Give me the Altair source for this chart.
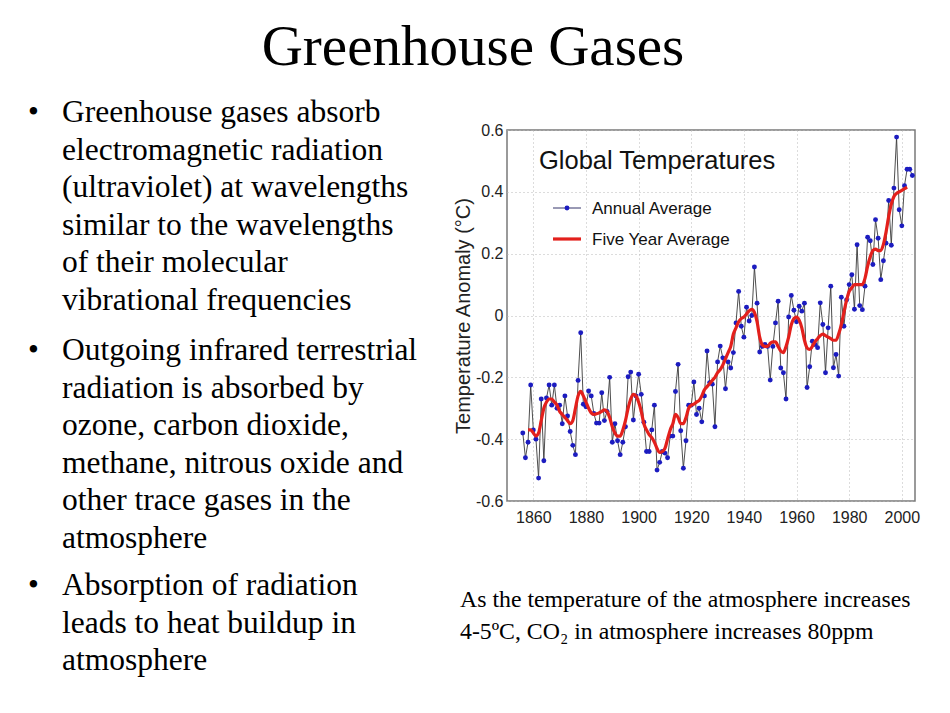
import altair as alt
import pandas as pd

# ---------------- data ----------------
annual_years = list(range(1856, 2005))
annual_values = [
    -0.38, -0.46, -0.41, -0.225, -0.37, -0.40, -0.526, -0.27, -0.47, -0.267,
    -0.225, -0.29, -0.225, -0.30, -0.29, -0.35, -0.26, -0.325, -0.375, -0.42,
    -0.45, -0.21, -0.056, -0.287, -0.295, -0.244, -0.26, -0.317, -0.348, -0.348,
    -0.25, -0.34, -0.31, -0.20, -0.41, -0.35, -0.405, -0.45, -0.41, -0.36,
    -0.198, -0.183, -0.338, -0.26, -0.19, -0.255, -0.345, -0.44, -0.44, -0.37,
    -0.29, -0.50, -0.475, -0.44, -0.445, -0.46, -0.39, -0.39, -0.246, -0.158,
    -0.373, -0.494, -0.405, -0.29, -0.29, -0.215, -0.32, -0.30, -0.344, -0.26,
    -0.115, -0.217, -0.222, -0.36, -0.15, -0.099, -0.137, -0.237, -0.15, -0.17,
    -0.12, -0.024, 0.078, -0.035, -0.07, 0.027, -0.018, 0.0, 0.157, 0.04,
    -0.118, -0.10, -0.094, -0.10, -0.209, -0.10, -0.024, 0.046, -0.17, -0.185,
    -0.27, -0.005, 0.065, 0.017, -0.02, 0.03, 0.014, 0.04, -0.233, -0.166,
    -0.083, -0.094, -0.104, 0.041, -0.029, -0.185, -0.04, 0.095, -0.169, -0.126,
    -0.196, 0.059, -0.035, 0.05, 0.10, 0.132, 0.02, 0.229, 0.032, 0.019,
    0.095, 0.253, 0.242, 0.165, 0.31, 0.25, 0.116, 0.177, 0.234, 0.372,
    0.227, 0.412, 0.577, 0.342, 0.29, 0.42, 0.473, 0.473, 0.453,
]

five_years = list(range(1858, 2003))
five_values = [
    -0.37, -0.37, -0.38, -0.39, -0.38, -0.34, -0.30, -0.28, -0.27, -0.27,
    -0.28, -0.29, -0.31, -0.32, -0.33, -0.34, -0.35, -0.34, -0.30, -0.26,
    -0.245, -0.26, -0.28, -0.30, -0.315, -0.32, -0.318, -0.315, -0.31, -0.305,
    -0.31, -0.33, -0.36, -0.38, -0.39, -0.39, -0.37, -0.34, -0.30, -0.27,
    -0.255, -0.26, -0.28, -0.31, -0.35, -0.37, -0.385, -0.395, -0.41, -0.43,
    -0.443, -0.44, -0.43, -0.40, -0.37, -0.35, -0.32, -0.33, -0.35, -0.35,
    -0.33, -0.30, -0.29, -0.287, -0.28, -0.275, -0.26, -0.24, -0.23, -0.22,
    -0.21, -0.20, -0.185, -0.175, -0.16, -0.14, -0.12, -0.10, -0.06, -0.04,
    -0.02, -0.01, -0.005, 0.005, 0.015, 0.02, 0.01, -0.02, -0.07, -0.095,
    -0.10, -0.10, -0.09, -0.085, -0.085, -0.10, -0.115, -0.12, -0.10, -0.07,
    -0.03, -0.01, -0.005, -0.015, -0.04, -0.08, -0.105, -0.11, -0.10, -0.085,
    -0.075, -0.065, -0.06, -0.065, -0.07, -0.075, -0.08, -0.08, -0.06, -0.03,
    0.01, 0.05, 0.078, 0.09, 0.10, 0.10, 0.10, 0.10, 0.12, 0.16,
    0.19, 0.21, 0.215, 0.21, 0.21, 0.23, 0.27, 0.32, 0.36, 0.385,
    0.395, 0.40, 0.405, 0.41, 0.415,
]

x_ticks = [1860, 1880, 1900, 1920, 1940, 1960, 1980, 2000]
y_ticks = [-0.6, -0.4, -0.2, 0, 0.2, 0.4, 0.6]

slide_title = "Greenhouse Gases"
bullet1 = ["Greenhouse gases absorb", "electromagnetic radiation",
           "(ultraviolet) at wavelengths", "similar to the wavelengths",
           "of their molecular", "vibrational frequencies"]
bullet2 = ["Outgoing infrared terrestrial", "radiation is absorbed by",
           "ozone, carbon dioxide,", "methane, nitrous oxide and",
           "other trace gases in the", "atmosphere"]
bullet3 = ["Absorption of radiation", "leads to heat buildup in",
           "atmosphere"]
caption = ["As the temperature of the atmosphere increases",
           "4-5ºC, CO₂ in atmosphere increases 80ppm"]
legend_title = "Global Temperatures"
legend_labels = ["Annual Average", "Five Year Average"]
y_title = "Temperature Anomaly (°C)"

# ---------------- chart ----------------
annual_df = pd.DataFrame({"year": annual_years, "temp": annual_values})
five_df = pd.DataFrame({"year": five_years, "temp": five_values})
dummy = pd.DataFrame({"k": [0]})

BLUE = "#1c1cc0"
RED = "#e3201c"
SANS = "Liberation Sans"
SERIF = "Liberation Serif"

x_scale = alt.Scale(domain=[1850, 2005], nice=False, zero=False)
y_scale = alt.Scale(domain=[-0.6, 0.6], nice=False, zero=False)

ylabel_expr = ("datum.value < 0 ? '-' + format(-datum.value, '.1f') : "
               "(datum.value == 0 ? '0' : format(datum.value, '.1f'))")

x_axis = alt.Axis(values=x_ticks, format="d", grid=True, ticks=False,
                  domain=False, labelPadding=8,
                  labelFontSize=16, labelFont=SANS, labelColor="#222")
y_axis = alt.Axis(values=y_ticks, labelExpr=ylabel_expr, grid=True,
                  ticks=False, domain=False, labelPadding=4,
                  labelFontSize=16, labelFont=SANS, labelColor="#222",
                  titleFont=SANS, titleFontSize=20, titleFontWeight="normal",
                  titleColor="#222", titlePadding=2)


def enc_x():
    return alt.X("year:Q", scale=x_scale, title=None, axis=x_axis)


def enc_y():
    return alt.Y("temp:Q", scale=y_scale, title=y_title, axis=y_axis)


annual_line = alt.Chart(annual_df).mark_line(color="#3a3a3a", strokeWidth=0.9).encode(
    x=enc_x(), y=enc_y())
annual_pts = alt.Chart(annual_df).mark_point(filled=True, color=BLUE, size=24, opacity=1).encode(
    x=enc_x(), y=enc_y())
five_line = alt.Chart(five_df).mark_line(color=RED, strokeWidth=3.2, interpolate="monotone").encode(
    x=enc_x(), y=enc_y())

# legend (inside the plot area)
leg_title = alt.Chart(dummy).mark_text(text=legend_title, align="left", baseline="alphabetic",
                                       font=SANS, fontSize=25.5, color="#111").encode(
    x=alt.value(32), y=alt.value(39))
leg_rule1 = alt.Chart(dummy).mark_rule(color="#34346a", strokeWidth=1).encode(
    x=alt.value(46), x2=alt.value(74), y=alt.value(78))
leg_dot = alt.Chart(dummy).mark_point(filled=True, color=BLUE, size=24, opacity=1).encode(
    x=alt.value(60), y=alt.value(78))
leg_rule2 = alt.Chart(dummy).mark_rule(color=RED, strokeWidth=3.2).encode(
    x=alt.value(46), x2=alt.value(74), y=alt.value(109))
leg_lab1 = alt.Chart(dummy).mark_text(text=legend_labels[0], align="left", baseline="middle",
                                      font=SANS, fontSize=17, color="#111").encode(
    x=alt.value(85), y=alt.value(79))
leg_lab2 = alt.Chart(dummy).mark_text(text=legend_labels[1], align="left", baseline="middle",
                                      font=SANS, fontSize=17, color="#111").encode(
    x=alt.value(85), y=alt.value(110))


# slide text (positions relative to plot origin at page (507,130))
def text_block(lines, x, y, size, lh, align="left"):
    return alt.Chart(dummy).mark_text(text=lines, align=align, baseline="alphabetic",
                                      font=SERIF, fontSize=size, lineHeight=lh,
                                      color="#000").encode(x=alt.value(x), y=alt.value(y))


title_mark = text_block(slide_title, 473 - 507, 65 - 130, 57, 60, align="center")
b1 = text_block(bullet1, 62 - 507, 122 - 130, 31.5, 37.6)
b2 = text_block(bullet2, 62 - 507, 360 - 130, 31.5, 37.6)
b3 = text_block(bullet3, 62 - 507, 595 - 130, 31.5, 37.6)
dots = [text_block("•", 28 - 507, yb - 130, 31, 37.6) for yb in (122, 360, 595)]
cap = text_block(caption, 460 - 507, 607 - 130, 23.8, 32)

chart = alt.layer(
    annual_line, annual_pts, five_line,
    leg_title, leg_rule1, leg_dot, leg_rule2, leg_lab1, leg_lab2,
    title_mark, b1, b2, b3, *dots, cap,
).properties(
    width=408, height=371,
    padding={"left": 499, "top": 122, "right": 12, "bottom": 180},
    autosize=alt.AutoSizeParams(type="none"),
    background="white",
).configure_view(
    stroke="#7a7a7a", strokeWidth=1.5
).configure_axis(
    gridColor="#b8b8b8", gridDash=[1, 3], gridWidth=1
)

chart.save("out.html", embed_options={"renderer": "svg", "actions": False})
